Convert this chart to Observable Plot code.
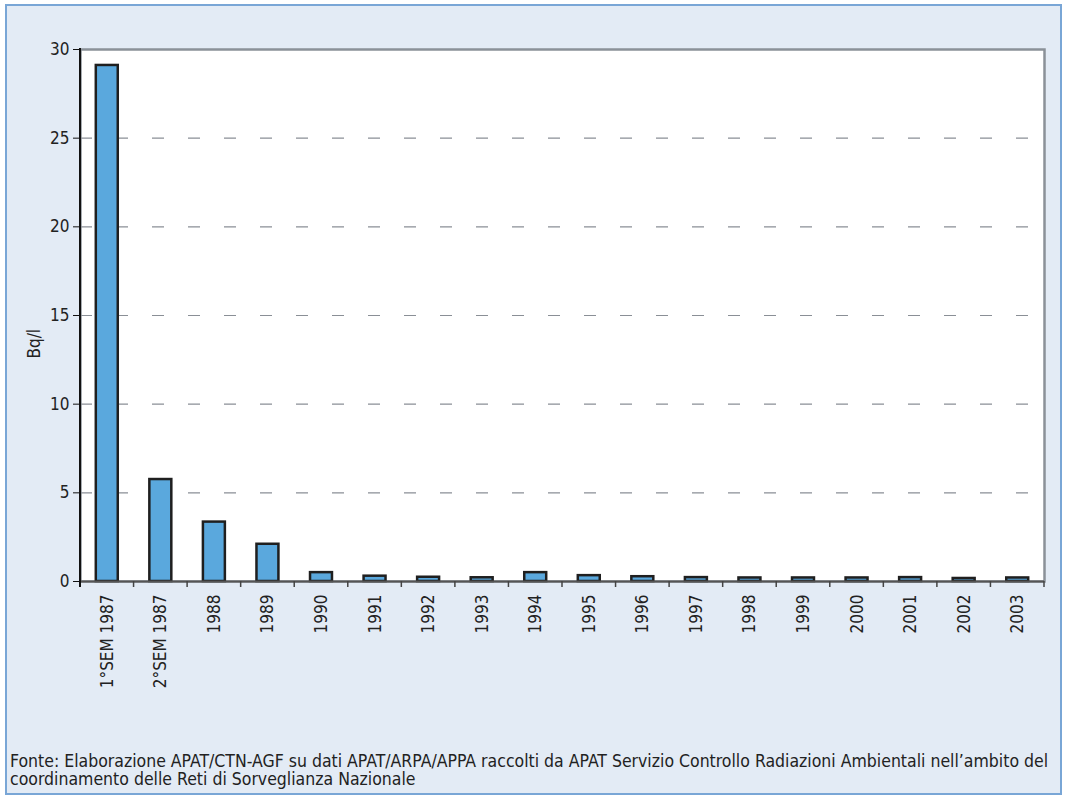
<!DOCTYPE html>
<html>
<head>
<meta charset="utf-8">
<script src="https://cdn.jsdelivr.net/npm/d3@7"></script>
<script src="https://cdn.jsdelivr.net/npm/@observablehq/plot@0.6"></script>
<style>
  html, body { margin: 0; padding: 0; background: #ffffff; width: 1065px; height: 798px; overflow: hidden; }
  #panel { position: absolute; left: 5px; top: 4px; width: 1053px; height: 787px; border: 2px solid #79a6d6; background: #e3ebf5; }
  #chart { position: absolute; left: 0; top: 0; }
  #caption { position: absolute; left: 10px; top: 753px; width: 1054px; font-family: "Liberation Sans Narrow", "DejaVu Sans Condensed", sans-serif; font-size: 17.5px; line-height: 17.5px; color: #222; }
  svg { font-family: "Liberation Sans Narrow", "DejaVu Sans Condensed", sans-serif; }
</style>
</head>
<body>
<div id="panel"></div>
<div id="chart"></div>
<div id="caption">Fonte: Elaborazione APAT/CTN-AGF su dati APAT/ARPA/APPA raccolti da APAT Servizio Controllo Radiazioni Ambientali nell’ambito del coordinamento delle Reti di Sorveglianza Nazionale</div>
<script>
const categories = ["1°SEM 1987", "2°SEM 1987", "1988", "1989", "1990", "1991", "1992", "1993", "1994", "1995", "1996", "1997", "1998", "1999", "2000", "2001", "2002", "2003"];
const values = [29.1, 5.75, 3.35, 2.1, 0.5, 0.3, 0.24, 0.21, 0.5, 0.33, 0.27, 0.22, 0.2, 0.2, 0.2, 0.22, 0.17, 0.2];
const yTicks = [0, 5, 10, 15, 20, 25, 30];
const gridValues = [5, 10, 15, 20, 25];
const yLabel = "Bq/l";

const data = categories.map((c, i) => ({category: c, value: values[i]}));

// left axis line and boundary ticks between bands on the x axis
function axisLines(index, scales, vals, dims) {
  const x = scales.x;
  const step = x.step();
  const bw = x.bandwidth();
  const y0 = dims.height - dims.marginBottom;
  const g = d3.create("svg:g");
  const doms = x.domain();
  const xs = doms.map(d => x(d) + bw / 2 - step / 2);
  xs.push(x(doms[doms.length - 1]) + bw / 2 + step / 2);
  xs.forEach((px) => {
    g.append("line")
      .attr("x1", px).attr("x2", px)
      .attr("y1", y0).attr("y2", y0 + 6)
      .attr("stroke", "#444")
      .attr("stroke-width", 1.5);
  });
  g.append("line")
    .attr("x1", dims.marginLeft).attr("x2", dims.marginLeft)
    .attr("y1", dims.marginTop - 1).attr("y2", y0 + 6)
    .attr("stroke", "#111").attr("stroke-width", 2);
  return g.node();
}

const plot = Plot.plot({
  width: 1065,
  height: 700,
  marginTop: 49,
  marginBottom: 119,
  marginLeft: 80,
  marginRight: 21,
  style: {background: "transparent", fontSize: "17px", color: "#222"},
  x: {domain: categories, paddingInner: 0.59, paddingOuter: 0.295, round: false, label: null},
  y: {domain: [0, 30], label: null},
  marks: [
    Plot.frame({fill: "white", stroke: "#8b9198", strokeWidth: 2.5}),
    Plot.ruleY(gridValues, {stroke: "#8a8f96", strokeWidth: 1.2, strokeDasharray: "12,24"}),
    Plot.barY(data, {x: "category", y: "value", fill: "#5aa8dd", stroke: "#1f1f1f", strokeWidth: 2.5}),
    Plot.ruleY([0], {stroke: "#555", strokeWidth: 2}),
    Plot.axisY({ticks: yTicks, tickSize: 7, tickPadding: 4, stroke: "#111", label: null, fontSize: 17}),
    Plot.text([yLabel], {frameAnchor: "left", dx: -45.5, dy: 43, rotate: -90, fontSize: 17, fill: "#222"}),
    Plot.axisX({tickSize: 0, tickRotate: -90, tickPadding: 13, fontSize: 17}),
    axisLines
  ]
});
document.getElementById("chart").appendChild(plot);
</script>
</body>
</html>
